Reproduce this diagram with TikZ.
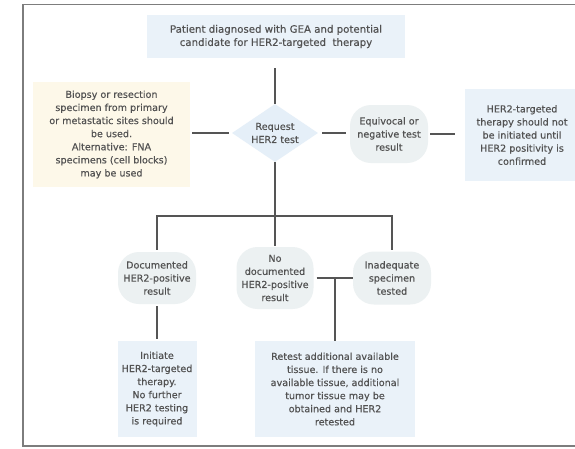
\documentclass[tikz,border=0pt]{standalone}
\usepackage{fontspec}
\setmainfont{DejaVu Sans}[FakeBold=0.35]
\usetikzlibrary{shapes.geometric}
\definecolor{txt}{RGB}{82,82,82}
\definecolor{ln}{RGB}{85,85,85}
\definecolor{bluebox}{RGB}{234,242,249}
\definecolor{yelbox}{RGB}{253,248,233}
\definecolor{blobc}{RGB}{236,241,242}
\definecolor{diamc}{RGB}{229,239,248}
\definecolor{framec}{RGB}{125,125,125}
\begin{document}
\begin{tikzpicture}[x=1pt,y=-1pt,
  every node/.style={font=\fontsize{9.6}{13.1}\selectfont, text=txt, align=center, inner sep=0pt},
  sqbox/.style={rectangle, fill=#1},
  blobnode/.style={rectangle, rounded corners=21pt, fill=blobc},
  conn/.style={draw=ln, line width=1.7pt}
]
\useasboundingbox (0,0) rectangle (575,448);
\fill[white] (0,0) rectangle (575,448);
% frame
\draw[framec, line width=1.5pt] (575,4.5) -- (23,4.5) -- (23,446) -- (575,446);

% nodes
\node[sqbox=bluebox, minimum width=258pt, minimum height=43pt, font=\fontsize{10.2}{13.2}\selectfont] (top) at (276,36.5)
  {Patient diagnosed with GEA and potential\\candidate for HER2-targeted\ \ therapy};
\node[sqbox=yelbox, minimum width=157pt, minimum height=105pt] (spec) at (111.5,134.5)
  {Biopsy or resection\\specimen from primary\\or metastatic sites should\\be used.\\Alternative: FNA\\specimens (cell blocks)\\may be used};
\node[diamond, fill=diamc, minimum width=86pt, minimum height=58pt] (req) at (275,133) {};
\node (reqt) at (req.center) {Request\\HER2 test};
\node[blobnode, minimum width=78pt, minimum height=58pt] (equiv) at (389,134)
  {Equivocal or\\negative test\\result};
\node[sqbox=bluebox, minimum width=110pt, minimum height=92pt] (rbox) at (520,135) {};
\node (rboxt) at (522,135) {HER2-targeted\\therapy should not\\be initiated until\\HER2 positivity is\\confirmed};

\node[blobnode, minimum width=78pt, minimum height=52pt] (doc) at (157,278)
  {Documented\\HER2-positive\\result};
\node[blobnode, minimum width=77pt, minimum height=62pt] (nodoc) at (275,278)
  {No\\documented\\HER2-positive\\result};
\node[blobnode, minimum width=78pt, minimum height=53pt] (inad) at (392,278)
  {Inadequate\\specimen\\tested};
\node[sqbox=bluebox, minimum width=79pt, minimum height=96pt] (init) at (157,389)
  {Initiate\\HER2-targeted\\therapy.\\No further\\HER2 testing\\is required};
\node[sqbox=bluebox, minimum width=160pt, minimum height=96pt] (retest) at (335,389)
  {Retest additional available\\tissue. If there is no\\available tissue, additional\\tumor tissue may be\\obtained and HER2\\retested};

% connectors
\draw[conn, shorten <=10pt] (top.south -| req.north) -- (req.north);
\draw[conn, shorten <=2pt, shorten >=3pt] (spec.east |- req.west) -- (req.west);
\draw[conn, shorten <=4pt, shorten >=4pt] (req.east) -- (equiv.west |- req.east);
\draw[conn, shorten <=2pt, shorten >=10pt] (equiv.east) -- (rbox.west |- equiv.east);
\draw[conn, shorten >=1pt] (req.south) -- (nodoc.north);
\coordinate (br) at (275,216);
\draw[conn, shorten <=2pt, shorten >=1pt] (doc.north) |- (br) -| (inad.north);
\draw[conn, shorten <=2pt, shorten >=2pt] (doc.south) -- (init.north);
\draw[conn, shorten <=3pt] (nodoc.east) -- (inad.west);
\coordinate (mid) at (335,278);
\draw[conn] (mid) -- (retest.north);
\end{tikzpicture}
\end{document}
